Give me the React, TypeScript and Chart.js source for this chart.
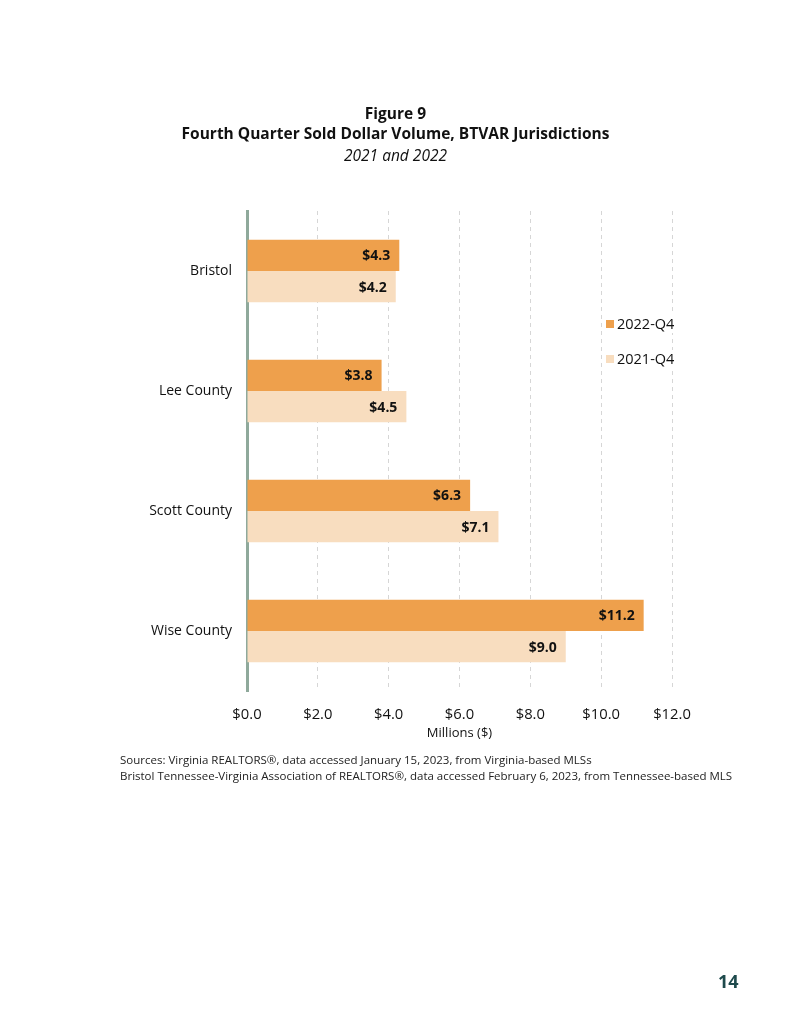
import React, { useEffect, useRef } from "react";
import { Chart, registerables } from "chart.js";

Chart.register(...registerables);

const categories = ["Bristol", "Lee County", "Scott County", "Wise County"];
const series2022 = [4.3, 3.8, 6.3, 11.2];
const series2021 = [4.2, 4.5, 7.1, 9.0];
const seriesLabels = ["2022-Q4", "2021-Q4"];
const xTicks = [0, 2, 4, 6, 8, 10, 12];
const titleLines = ["Figure 9", "Fourth Quarter Sold Dollar Volume, BTVAR Jurisdictions"];
const subtitleText = "2021 and 2022";
const axisTitle = "Millions ($)";
const sources = [
  "Sources: Virginia REALTORS®, data accessed January 15, 2023, from Virginia-based MLSs",
  "Bristol Tennessee-Virginia Association of REALTORS®, data accessed February 6, 2023, from Tennessee-based MLS",
];
const pageNumber = "14";

const COLOR_2022 = "#EEA04C";
const COLOR_2021 = "#F8DDBF";
const FONT = "'Open Sans', 'Noto Sans', sans-serif";

const pageTitle = {
  id: "pageTitle",
  afterDraw(chart: any) {
    const ctx = chart.ctx;
    const cx = chart.width / 2;
    ctx.save();
    ctx.fillStyle = "#111";
    ctx.textAlign = "center";
    ctx.textBaseline = "middle";
    ctx.font = `bold 15.5px ${FONT}`;
    titleLines.forEach((t, i) => ctx.fillText(t, cx, 107 + i * 20));
    ctx.font = `italic 15.5px ${FONT}`;
    ctx.fillText(subtitleText, cx, 149);
    ctx.restore();
  },
};

const valueLabels = {
  id: "valueLabels",
  afterDatasetsDraw(chart: any) {
    const ctx = chart.ctx;
    ctx.save();
    ctx.font = `bold 14px ${FONT}`;
    ctx.fillStyle = "#111";
    ctx.textAlign = "right";
    ctx.textBaseline = "middle";
    chart.data.datasets.forEach((ds: any, di: number) => {
      const meta = chart.getDatasetMeta(di);
      meta.data.forEach((bar: any, i: number) => {
        const v = ds.data[i];
        ctx.fillText("$" + v.toFixed(1), bar.x - 9, bar.y + 1);
      });
    });
    ctx.restore();
  },
};

const insideLegend = {
  id: "insideLegend",
  afterDraw(chart: any) {
    const ctx = chart.ctx;
    const area = chart.chartArea;
    ctx.save();
    ctx.font = `14.5px ${FONT}`;
    ctx.textBaseline = "middle";
    ctx.textAlign = "left";
    const x0 = area.left + 359;
    chart.data.datasets.forEach((ds: any, i: number) => {
      const y = area.top + 113 + i * 35;
      ctx.fillStyle = "#fff";
      ctx.fillRect(x0 - 2, y - 9, 82, 18);
      ctx.fillStyle = ds.backgroundColor;
      ctx.fillRect(x0, y - 4, 8, 8);
      ctx.fillStyle = "#111";
      ctx.fillText(ds.label, x0 + 11, y + 1);
    });
    ctx.restore();
  },
};

export default function App() {
  const ref = useRef<HTMLCanvasElement>(null);
  useEffect(() => {
    if (!ref.current) return;
    const chart = new Chart(ref.current, {
      type: "bar",
      data: {
        labels: categories,
        datasets: [
          { label: seriesLabels[0], data: series2022, backgroundColor: COLOR_2022, categoryPercentage: 0.52, barPercentage: 1 },
          { label: seriesLabels[1], data: series2021, backgroundColor: COLOR_2021, categoryPercentage: 0.52, barPercentage: 1 },
        ],
      },
      plugins: [valueLabels, insideLegend, pageTitle],
      options: {
        indexAxis: "y",
        animation: false,
        responsive: false,
        maintainAspectRatio: false,
        layout: { padding: { left: 0, right: 111, top: 203, bottom: 265 } },
        plugins: {
          legend: { display: false },
          tooltip: { enabled: false },
          title: { display: false },
        },
        scales: {
          x: {
            min: 0,
            max: 12,
            afterFit: (s: any) => { s.height = 60; },
            afterBuildTicks: (s: any) => { s.ticks = xTicks.map((v) => ({ value: v })); },
            grid: { color: "#d6d6d6", lineWidth: 1, drawTicks: false },
            border: { display: false, dash: [4, 4] },
            ticks: {
              padding: 15,
              color: "#111",
              font: { family: FONT, size: 14.8 },
              callback: (v: any) => "$" + Number(v).toFixed(1),
            },
            title: {
              display: true,
              text: axisTitle,
              color: "#111",
              font: { family: FONT, size: 13 },
              padding: { top: 0, bottom: 10 },
            },
          },
          y: {
            afterFit: (s: any) => { s.width = 239; },
            grid: { display: false, drawTicks: false },
            border: { display: true, color: "#8FA99B", width: 3 },
            ticks: { padding: 15, color: "#111", font: { family: FONT, size: 14 } },
          },
        },
      } as any,
    });
    return () => chart.destroy();
  }, []);

  return (
    <div style={{ position: "relative", width: 775, height: 1008, fontFamily: FONT }}>
      <canvas ref={ref} width={775} height={1008} style={{ display: "block" }} />
      <div style={{ position: "absolute", left: 112, top: 744, fontSize: 11.5, lineHeight: "16px", color: "#222" }}>
        {sources.map((s, i) => (
          <div key={i}>{s}</div>
        ))}
      </div>
      <div style={{ position: "absolute", left: 710, top: 961, fontSize: 18, fontWeight: 700, color: "#1E4A4C", lineHeight: "24px" }}>
        {pageNumber}
      </div>
    </div>
  );
}
